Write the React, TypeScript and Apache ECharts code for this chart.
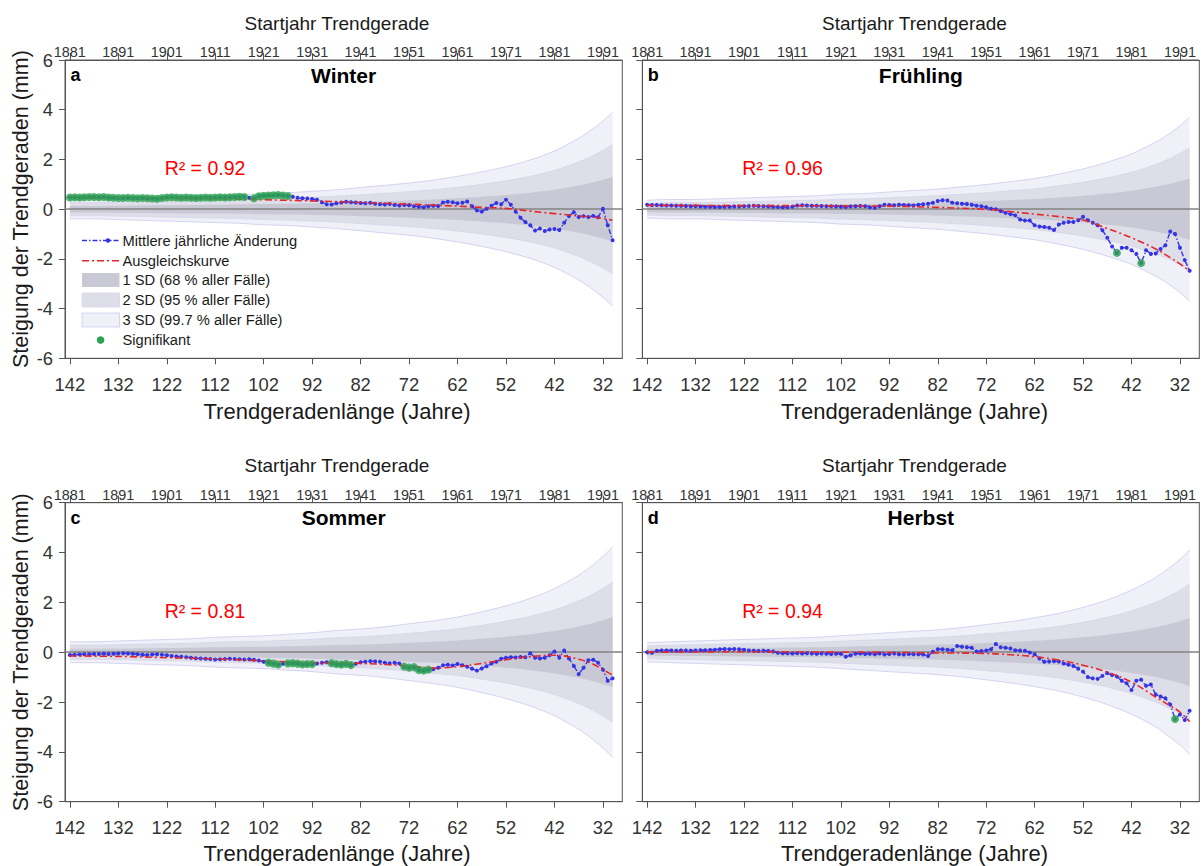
import React, { useEffect, useRef } from "react";
import * as echarts from "echarts";

const FONT = "'Liberation Sans', Arial, Helvetica, sans-serif";

// Trend length (years) for every point, 142 .. 30
const TREND_LENGTHS = Array.from({ length: 113 }, (_, i) => 142 - i);
const BOTTOM_TICKS = [142, 132, 122, 112, 102, 92, 82, 72, 62, 52, 42, 32];
const TOP_TICKS = [1881, 1891, 1901, 1911, 1921, 1931, 1941, 1951, 1961, 1971, 1981, 1991];

// sample trend lengths for the SD bands and the fitted curves
const BAND_L = [142, 137, 132, 127, 122, 117, 112, 107, 102, 97, 92, 87, 82, 77, 72, 67, 62, 57, 52, 47, 42, 37, 34, 32, 30];
const SD_MULTIPLES = [1, 2, 3];
const FIT_L = [142, 132, 122, 112, 102, 92, 82, 72, 67, 62, 57, 52, 47, 42, 37, 34, 32, 30];

// ---------- Winter ----------
const WINTER_VALUES = [
  0.47, 0.48, 0.47, 0.48, 0.49, 0.49, 0.48, 0.49, 0.47, 0.46,
  0.45, 0.45, 0.46, 0.45, 0.44, 0.45, 0.44, 0.43, 0.42, 0.45,
  0.47, 0.48, 0.47, 0.46, 0.47, 0.46, 0.45, 0.46, 0.47, 0.46,
  0.47, 0.48, 0.47, 0.48, 0.49, 0.50, 0.49, 0.46, 0.44, 0.52,
  0.54, 0.55, 0.56, 0.57, 0.55, 0.53, 0.50, 0.46, 0.44, 0.43,
  0.41, 0.38, 0.28, 0.20, 0.19, 0.24, 0.27, 0.30, 0.28, 0.27,
  0.25, 0.24, 0.26, 0.22, 0.20, 0.19, 0.21, 0.17, 0.15, 0.17,
  0.16, 0.12, 0.10, 0.08, 0.12, 0.14, 0.13, 0.27, 0.30, 0.28,
  0.24, 0.26, 0.31, 0.12, -0.05, -0.10, 0.02, 0.14, 0.25, 0.20,
  0.38, 0.18, -0.10, -0.35, -0.52, -0.65, -0.86, -0.78, -0.88, -0.82,
  -0.80, -0.84, -0.55, -0.28, -0.12, -0.32, -0.28, -0.32, -0.27, -0.33,
  0.02, -0.65, -1.25,
];
const WINTER_FIT = [0.48, 0.46, 0.44, 0.42, 0.38, 0.33, 0.27, 0.20, 0.16, 0.12, 0.07, 0.03, -0.08, -0.18, -0.27, -0.32, -0.37, -0.45];
const WINTER_SD = [0.13, 0.13, 0.14, 0.15, 0.16, 0.17, 0.18, 0.19, 0.21, 0.22, 0.24, 0.26, 0.29, 0.32, 0.35, 0.39, 0.44, 0.50, 0.57, 0.66, 0.78, 0.95, 1.08, 1.18, 1.30];
const WINTER_SIG = [
  142, 141, 140, 139, 138, 137, 136, 135, 134, 133, 132, 131, 130, 129, 128, 127, 126, 125, 124,
  123, 122, 121, 120, 119, 118, 117, 116, 115, 114, 113, 112, 111, 110, 109, 108, 107, 106,
  104, 103, 102, 101, 100, 99, 98, 97,
];

// ---------- Frühling ----------
const SPRING_VALUES = [
  0.18, 0.17, 0.17, 0.16, 0.15, 0.15, 0.14, 0.14, 0.13, 0.12,
  0.12, 0.11, 0.10, 0.10, 0.09, 0.09, 0.10, 0.10, 0.11, 0.11,
  0.12, 0.13, 0.14, 0.13, 0.12, 0.11, 0.10, 0.09, 0.08, 0.08,
  0.10, 0.15, 0.16, 0.15, 0.14, 0.14, 0.13, 0.12, 0.12, 0.11,
  0.10, 0.09, 0.11, 0.12, 0.13, 0.12, 0.08, 0.06, 0.12, 0.18,
  0.17, 0.16, 0.18, 0.17, 0.16, 0.15, 0.18, 0.20, 0.22, 0.26,
  0.33, 0.36, 0.35, 0.26, 0.24, 0.22, 0.21, 0.18, 0.14, 0.12,
  0.08, 0.02, 0.00, -0.08, -0.15, -0.20, -0.25, -0.42, -0.46, -0.46,
  -0.65, -0.70, -0.72, -0.75, -0.84, -0.62, -0.55, -0.52, -0.52, -0.45,
  -0.31, -0.45, -0.55, -0.65, -0.85, -1.15, -1.50, -1.76, -1.55, -1.55,
  -1.65, -1.80, -2.17, -1.65, -1.80, -1.78, -1.60, -1.45, -0.90, -1.00,
  -1.55, -2.05, -2.48,
];
const SPRING_FIT = [0.15, 0.15, 0.14, 0.14, 0.13, 0.12, 0.07, -0.01, -0.10, -0.20, -0.30, -0.44, -0.78, -1.15, -1.60, -1.95, -2.20, -2.50];
const SPRING_SD = [0.12, 0.13, 0.13, 0.14, 0.15, 0.16, 0.17, 0.18, 0.20, 0.21, 0.23, 0.25, 0.27, 0.30, 0.33, 0.37, 0.41, 0.47, 0.54, 0.63, 0.74, 0.90, 1.02, 1.12, 1.23];
const SPRING_SIG = [45, 40];

// ---------- Sommer ----------
const SUMMER_VALUES = [
  -0.11, -0.10, -0.09, -0.08, -0.08, -0.07, -0.07, -0.06, -0.07, -0.06,
  -0.05, -0.04, -0.05, -0.06, -0.08, -0.10, -0.11, -0.09, -0.08, -0.10,
  -0.12, -0.15, -0.17, -0.18, -0.20, -0.22, -0.24, -0.25, -0.26, -0.27,
  -0.29, -0.28, -0.27, -0.26, -0.27, -0.28, -0.29, -0.28, -0.30, -0.33,
  -0.38, -0.42, -0.46, -0.50, -0.46, -0.45, -0.44, -0.46, -0.49, -0.48,
  -0.48, -0.45, -0.42, -0.40, -0.44, -0.48, -0.50, -0.47, -0.52, -0.46,
  -0.40, -0.38, -0.36, -0.37, -0.38, -0.42, -0.44, -0.42, -0.45, -0.58,
  -0.62, -0.60, -0.72, -0.74, -0.70, -0.68, -0.62, -0.52, -0.50, -0.53,
  -0.47, -0.52, -0.58, -0.66, -0.74, -0.65, -0.56, -0.45, -0.38, -0.26,
  -0.22, -0.20, -0.21, -0.19, -0.20, -0.04, -0.22, -0.25, -0.22, -0.12,
  0.03, -0.22, 0.07, -0.25, -0.55, -0.88, -0.62, -0.32, -0.30, -0.42,
  -0.70, -1.15, -1.05,
];
const SUMMER_FIT = [-0.15, -0.17, -0.22, -0.27, -0.35, -0.42, -0.45, -0.55, -0.64, -0.58, -0.45, -0.30, -0.18, -0.12, -0.28, -0.48, -0.70, -0.92];
const SUMMER_SD = [0.14, 0.14, 0.15, 0.16, 0.17, 0.18, 0.20, 0.21, 0.22, 0.24, 0.26, 0.29, 0.31, 0.34, 0.38, 0.42, 0.47, 0.54, 0.62, 0.72, 0.85, 1.03, 1.17, 1.28, 1.41];
const SUMMER_SIG = [101, 100, 99, 97, 96, 95, 94, 93, 92, 88, 87, 86, 85, 84, 73, 72, 71, 70, 69, 68];

// ---------- Herbst ----------
const AUTUMN_VALUES = [
  0.00, -0.02, 0.06, 0.07, 0.07, 0.07, 0.06, 0.07, 0.07, 0.06,
  0.07, 0.08, 0.08, 0.09, 0.10, 0.12, 0.13, 0.12, 0.13, 0.12,
  0.10, 0.07, 0.06, 0.05, 0.06, 0.05, 0.03, -0.02, -0.04, -0.04,
  -0.05, -0.04, -0.05, -0.04, -0.05, -0.06, -0.05, -0.06, -0.07, -0.06,
  -0.06, -0.18, -0.12, -0.06, -0.05, -0.07, -0.06, -0.08, -0.05, -0.09,
  -0.07, -0.05, -0.08, -0.09, -0.07, -0.08, -0.08, -0.09, -0.15, 0.02,
  0.12, 0.12, 0.10, 0.08, 0.25, 0.22, 0.20, 0.18, 0.03, 0.05,
  0.07, 0.12, 0.33, 0.20, 0.18, 0.15, 0.08, 0.07, 0.06, -0.01,
  -0.08, -0.25, -0.38, -0.37, -0.36, -0.37, -0.45, -0.50, -0.55, -0.66,
  -0.78, -1.00, -1.05, -1.07, -0.95, -0.84, -0.92, -0.98, -1.15, -1.25,
  -1.52, -1.15, -1.10, -1.35, -1.30, -1.70, -1.78, -1.85, -2.10, -2.68,
  -2.50, -2.72, -2.35,
];
const AUTUMN_FIT = [0.00, 0.01, 0.02, 0.01, 0.00, -0.01, -0.03, -0.05, -0.10, -0.18, -0.32, -0.52, -0.80, -1.20, -1.80, -2.15, -2.40, -2.78];
const AUTUMN_SD = [0.13, 0.14, 0.15, 0.16, 0.17, 0.18, 0.19, 0.20, 0.22, 0.24, 0.26, 0.28, 0.30, 0.33, 0.37, 0.41, 0.46, 0.52, 0.60, 0.70, 0.83, 1.00, 1.14, 1.24, 1.37];
const AUTUMN_SIG = [33];

const PANELS = [
  { letter: "a", title: "Winter", r2: "R² = 0.92", values: WINTER_VALUES, fit: WINTER_FIT, sd: WINTER_SD, sig: WINTER_SIG },
  { letter: "b", title: "Frühling", r2: "R² = 0.96", values: SPRING_VALUES, fit: SPRING_FIT, sd: SPRING_SD, sig: SPRING_SIG },
  { letter: "c", title: "Sommer", r2: "R² = 0.81", values: SUMMER_VALUES, fit: SUMMER_FIT, sd: SUMMER_SD, sig: SUMMER_SIG },
  { letter: "d", title: "Herbst", r2: "R² = 0.94", values: AUTUMN_VALUES, fit: AUTUMN_FIT, sd: AUTUMN_SD, sig: AUTUMN_SIG },
];

const LEGEND_LABELS = [
  "Mittlere jährliche Änderung",
  "Ausgleichskurve",
  "1 SD (68 % aller Fälle)",
  "2 SD (95 % aller Fälle)",
  "3 SD (99.7 % aller Fälle)",
  "Signifikant",
];

const GRIDS = [
  { left: 65, top: 60, width: 557.3, height: 298.3 },
  { left: 642.3, top: 60, width: 557, height: 298.3 },
  { left: 65, top: 502.7, width: 557.3, height: 299 },
  { left: 642.3, top: 502.7, width: 557, height: 299 },
];

const AXIS_COLOR = "#555555";
const LABEL_COLOR = "#333333";
const BAND_COLORS = ["#c9c9d5", "#dedee9", "#f0f0f8"];
const BAND_LINES = ["rgba(0,0,0,0)", "#d4d4ea", "#cacaee"];
const BLUE = "#3434e6";
const RED = "#e8262a";
const GREEN = "#2ca24f";

function buildOption() {
  const grid: any[] = [];
  const xAxis: any[] = [];
  const yAxis: any[] = [];
  const series: any[] = [];
  const graphic: any[] = [];
  const plain = (v: number) => String(v);

  PANELS.forEach((p, i) => {
    const g = GRIDS[i];
    grid.push({ ...g, show: true, borderColor: AXIS_COLOR, borderWidth: 1, backgroundColor: "transparent" });
    xAxis.push({
      gridIndex: i, type: "value", position: "bottom", inverse: true, min: 28, max: 143,
      axisLine: { show: true, onZero: false, lineStyle: { color: AXIS_COLOR, width: 1 } },
      axisTick: { show: true, length: 6, customValues: BOTTOM_TICKS, lineStyle: { color: AXIS_COLOR } },
      axisLabel: { customValues: BOTTOM_TICKS, formatter: plain, fontSize: 18.4, color: LABEL_COLOR, margin: 17, fontFamily: FONT },
      splitLine: { show: false },
    });
    xAxis.push({
      gridIndex: i, type: "value", position: "top", min: 1880, max: 1995,
      axisLine: { show: true, onZero: false, lineStyle: { color: AXIS_COLOR, width: 1 } },
      axisTick: { show: true, length: 7, customValues: TOP_TICKS, lineStyle: { color: AXIS_COLOR } },
      axisLabel: { customValues: TOP_TICKS, formatter: plain, fontSize: 14.4, color: LABEL_COLOR, margin: 1, fontFamily: FONT },
      splitLine: { show: false },
    });
    yAxis.push({
      gridIndex: i, type: "value", min: -6, max: 6, interval: 2,
      axisLine: { show: true, onZero: false, lineStyle: { color: AXIS_COLOR, width: 1 } },
      axisTick: { show: true, length: 6, lineStyle: { color: AXIS_COLOR } },
      axisLabel: { show: i % 2 === 0, fontSize: 18.4, color: LABEL_COLOR, margin: 12, fontFamily: FONT },
      splitLine: { show: false },
    });

    const xi = 2 * i;
    // SD bands, widest first
    [2, 1, 0].forEach((k) => {
      const m = SD_MULTIPLES[k];
      [1, -1].forEach((sgn) => {
        series.push({
          type: "line", xAxisIndex: xi, yAxisIndex: i, z: 1, silent: true,
          smooth: 0.3, symbol: "none",
          data: BAND_L.map((l, j) => [l, sgn * m * p.sd[j]]),
          lineStyle: { color: BAND_LINES[k], width: k === 0 ? 0 : 0.8 },
          areaStyle: { color: BAND_COLORS[k], opacity: 1 },
          markLine: k === 0 && sgn === 1 ? {
            silent: true, z: 2, symbol: ["none", "none"], label: { show: false },
            lineStyle: { color: "#828282", width: 1.5, type: "solid" },
            data: [{ yAxis: 0 }],
          } : undefined,
        });
      });
    });
    // mean annual change
    series.push({
      type: "line", xAxisIndex: xi, yAxisIndex: i, z: 3, silent: true,
      data: TREND_LENGTHS.map((l, j) => [l, p.values[j]]),
      symbol: "circle", symbolSize: 4,
      itemStyle: { color: BLUE },
      lineStyle: { color: BLUE, width: 1.4, type: [5, 2, 1.5, 2] },
    });
    // fitted curve
    series.push({
      type: "line", xAxisIndex: xi, yAxisIndex: i, z: 4, silent: true,
      data: FIT_L.map((l, j) => [l, p.fit[j]]),
      smooth: 0.4, symbol: "none",
      lineStyle: { color: RED, width: 1.6, type: [7, 3, 2, 3] },
    });
    // significant points
    series.push({
      type: "scatter", xAxisIndex: xi, yAxisIndex: i, z: 5, silent: true,
      data: p.sig.map((l) => [l, p.values[142 - l]]),
      symbol: "circle", symbolSize: 8,
      itemStyle: { color: GREEN },
    });

    const dx = i % 2 === 1 ? 577.5 : 0;
    const dy = i >= 2 ? 442.7 : 0;
    const cx = g.left + g.width / 2;
    graphic.push(
      { type: "text", x: 337 + dx, y: 23 + dy, silent: true, style: { text: "Startjahr Trendgerade", fill: "#1a1a1a", fontSize: 19, fontFamily: FONT, align: "center", verticalAlign: "middle" } },
      { type: "text", x: 337 + dx, y: 411 + dy, silent: true, style: { text: "Trendgeradenlänge (Jahre)", fill: "#1a1a1a", fontSize: 22, fontFamily: FONT, align: "center", verticalAlign: "middle" } },
      { type: "text", x: g.left + 5.5, y: 75 + dy, silent: true, style: { text: p.letter, fill: "#000", fontSize: 18, fontWeight: "bold", fontFamily: FONT, align: "left", verticalAlign: "middle" } },
      { type: "text", x: cx, y: 75 + dy, silent: true, style: { text: p.title, fill: "#000", fontSize: 21, fontWeight: "bold", fontFamily: FONT, align: "center", verticalAlign: "middle" } },
      { type: "text", x: 205 + dx, y: 168 + dy, silent: true, style: { text: p.r2, fill: "#ff0000", fontSize: 19.5, fontFamily: FONT, align: "center", verticalAlign: "middle" } },
    );
    if (i % 2 === 0) {
      graphic.push({
        type: "text", x: 21, y: g.top + g.height / 2, rotation: Math.PI / 2, silent: true,
        style: { text: "Steigung der Trendgeraden (mm)", fill: "#1a1a1a", fontSize: 21.5, fontFamily: FONT, align: "center", verticalAlign: "middle" },
      });
    }
  });

  // legend in panel a
  const lx1 = 82, lx2 = 119.5, tx = 122.5;
  const ly = [240.5, 260.7, 280, 300, 320, 340];
  graphic.push(
    { type: "line", silent: true, shape: { x1: lx1, y1: ly[0], x2: lx2, y2: ly[0] }, style: { stroke: BLUE, lineWidth: 1.5, lineDash: [5, 2, 1.5, 2] } },
    { type: "circle", silent: true, shape: { cx: 108, cy: ly[0], r: 2.2 }, style: { fill: BLUE } },
    { type: "line", silent: true, shape: { x1: lx1, y1: ly[1], x2: lx2, y2: ly[1] }, style: { stroke: RED, lineWidth: 1.6, lineDash: [7, 3, 2, 3] } },
    { type: "rect", silent: true, shape: { x: lx1, y: ly[2] - 7, width: lx2 - lx1, height: 14 }, style: { fill: BAND_COLORS[0] } },
    { type: "rect", silent: true, shape: { x: lx1, y: ly[3] - 7, width: lx2 - lx1, height: 14 }, style: { fill: BAND_COLORS[1], stroke: BAND_LINES[1], lineWidth: 0.8 } },
    { type: "rect", silent: true, shape: { x: lx1, y: ly[4] - 7, width: lx2 - lx1, height: 14 }, style: { fill: BAND_COLORS[2], stroke: BAND_LINES[2], lineWidth: 0.8 } },
    { type: "circle", silent: true, shape: { cx: 100.6, cy: ly[5], r: 3.8 }, style: { fill: GREEN } },
  );
  LEGEND_LABELS.forEach((t, k) => {
    graphic.push({ type: "text", x: tx, y: ly[k], silent: true, style: { text: t, fill: "#1a1a1a", fontSize: 14.7, fontFamily: FONT, align: "left", verticalAlign: "middle" } });
  });

  return {
    animation: false,
    backgroundColor: "#ffffff",
    textStyle: { fontFamily: FONT },
    grid, xAxis, yAxis, series, graphic,
  };
}

export default function App() {
  const ref = useRef<HTMLDivElement>(null);
  useEffect(() => {
    if (!ref.current) return;
    const chart = echarts.init(ref.current, undefined, { renderer: "svg" });
    chart.setOption(buildOption() as any);
    return () => chart.dispose();
  }, []);
  return <div ref={ref} style={{ position: "fixed", left: 0, top: 0, width: 1203, height: 866 }} />;
}
